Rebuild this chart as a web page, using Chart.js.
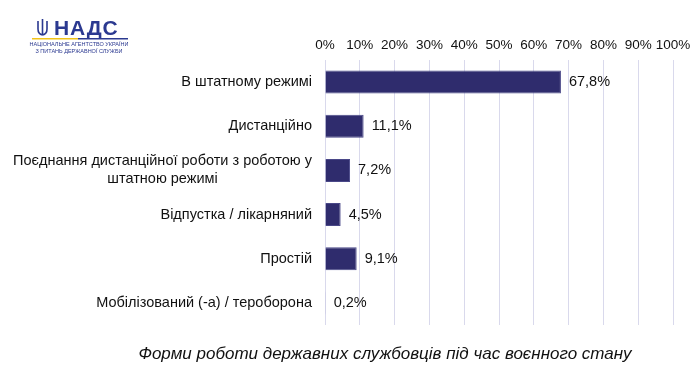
<!DOCTYPE html>
<html>
<head>
<meta charset="utf-8">
<script src="https://cdn.jsdelivr.net/npm/chart.js@4"></script>
<style>
  html, body { margin: 0; padding: 0; background: #fff; }
  #wrap { width: 700px; height: 374px; position: relative; }
</style>
</head>
<body>
<div id="wrap"><canvas id="formsChart"></canvas></div>
<script>
// Chart data
const categories = [
    'В штатному режимі',
    'Дистанційно',
    ['Поєднання дистанційної роботи з роботою у', 'штатною режимі'],
    'Відпустка / лікарняний',
    'Простій',
    'Мобілізований (-а) / тероборона'
];
const shares = [67.8, 11.1, 7.2, 4.5, 9.1, 0.2];
const tickValues = [0, 10, 20, 30, 40, 50, 60, 70, 80, 90, 100];
const chartTitle = 'Форми роботи державних службовців під час воєнного стану';

const FONT = '"Liberation Sans", Arial, sans-serif';

function pct(v) {
    return v.toFixed(1).replace('.', ',') + '%';
}

// Category labels: single lines right aligned, wrapped label centered as a block
const categoryLabelsPlugin = {
    id: 'categoryLabels',
    afterDraw(chart) {
        const ctx = chart.ctx;
        const yScale = chart.scales.y;
        const rightX = 312;
        ctx.save();
        ctx.font = '14.5px ' + FONT;
        ctx.fillStyle = '#111';
        ctx.textBaseline = 'middle';
        categories.forEach((label, i) => {
            const y = yScale.getPixelForValue(i);
            if (Array.isArray(label)) {
                const w = Math.max(...label.map(l => ctx.measureText(l).width));
                const cx = rightX - w / 2;
                const lh = 18;
                ctx.textAlign = 'center';
                label.forEach((line, j) => {
                    ctx.fillText(line, cx, y + (j - (label.length - 1) / 2) * lh);
                });
            } else {
                ctx.textAlign = 'right';
                ctx.fillText(label, rightX, y);
            }
        });
        ctx.restore();
    }
};

// Value labels after each bar
const valueLabelsPlugin = {
    id: 'valueLabels',
    afterDatasetsDraw(chart) {
        const ctx = chart.ctx;
        const meta = chart.getDatasetMeta(0);
        ctx.save();
        ctx.font = '14.5px ' + FONT;
        ctx.fillStyle = '#111';
        ctx.textAlign = 'left';
        ctx.textBaseline = 'middle';
        meta.data.forEach((bar, i) => {
            ctx.fillText(pct(shares[i]), bar.x + 8, bar.y);
        });
        ctx.restore();
    }
};

// Logo in the top left corner and the italic caption under the chart
const decorPlugin = {
    id: 'decor',
    afterDraw(chart) {
        const ctx = chart.ctx;
        ctx.save();
        const navy = '#2b3990';

        // trident
        ctx.strokeStyle = navy;
        ctx.fillStyle = navy;
        ctx.lineWidth = 1.6;
        ctx.beginPath();
        ctx.moveTo(42.5, 19); ctx.lineTo(42.5, 35);
        ctx.moveTo(38, 21); ctx.lineTo(38, 29); ctx.quadraticCurveTo(38, 34, 42.5, 35);
        ctx.moveTo(47, 21); ctx.lineTo(47, 29); ctx.quadraticCurveTo(47, 34, 42.5, 35);
        ctx.stroke();

        // НАДС
        ctx.font = 'bold 21px ' + FONT;
        ctx.textAlign = 'left';
        ctx.textBaseline = 'alphabetic';
        if ('letterSpacing' in ctx) ctx.letterSpacing = '0.8px';
        ctx.fillText('НАДС', 54, 35);
        if ('letterSpacing' in ctx) ctx.letterSpacing = '0px';

        // underline: yellow then blue
        ctx.fillStyle = '#f2c418';
        ctx.fillRect(32, 38, 46, 1.5);
        ctx.fillStyle = navy;
        ctx.fillRect(78, 38, 50, 1.5);

        // small caption
        ctx.font = '5.5px ' + FONT;
        ctx.textAlign = 'center';
        ctx.fillText('НАЦІОНАЛЬНЕ АГЕНТСТВО УКРАЇНИ', 79, 46);
        ctx.fillText('З ПИТАНЬ ДЕРЖАВНОЇ СЛУЖБИ', 79, 53);

        // chart caption
        ctx.font = 'italic 17px ' + FONT;
        ctx.fillStyle = '#111';
        ctx.textAlign = 'center';
        ctx.textBaseline = 'middle';
        ctx.fillText(chartTitle, 385, 354);
        ctx.restore();
    }
};

const chartConfig = {
    type: 'bar',
    data: {
        labels: categories,
        datasets: [{
            data: shares,
            backgroundColor: '#2f2c6d',
            borderColor: '#4a4888',
            borderWidth: 1,
            barPercentage: 0.52,
            categoryPercentage: 1
        }]
    },
    options: {
        indexAxis: 'y',
        responsive: true,
        maintainAspectRatio: false,
        animation: false,
        layout: {
            padding: { top: 0, left: 0, right: 27, bottom: 49 }
        },
        plugins: {
            legend: { display: false },
            tooltip: { enabled: false }
        },
        scales: {
            x: {
                position: 'top',
                min: 0,
                max: 100,
                afterBuildTicks: (scale) => {
                    scale.ticks = tickValues.map(v => ({ value: v }));
                },
                afterFit: (scale) => { scale.height = 60; },
                border: { display: false },
                grid: {
                    color: '#d9d9ec',
                    drawTicks: false
                },
                ticks: {
                    padding: 7,
                    maxRotation: 0,
                    autoSkip: false,
                    color: '#111',
                    font: { family: FONT, size: 13.5 },
                    callback: (v) => v + '%'
                }
            },
            y: {
                afterFit: (scale) => { scale.width = 325; },
                border: { display: false },
                grid: { display: false, drawTicks: false },
                ticks: { display: false }
            }
        }
    },
    plugins: [categoryLabelsPlugin, valueLabelsPlugin, decorPlugin]
};

new Chart(document.getElementById('formsChart').getContext('2d'), chartConfig);
</script>
</body>
</html>
